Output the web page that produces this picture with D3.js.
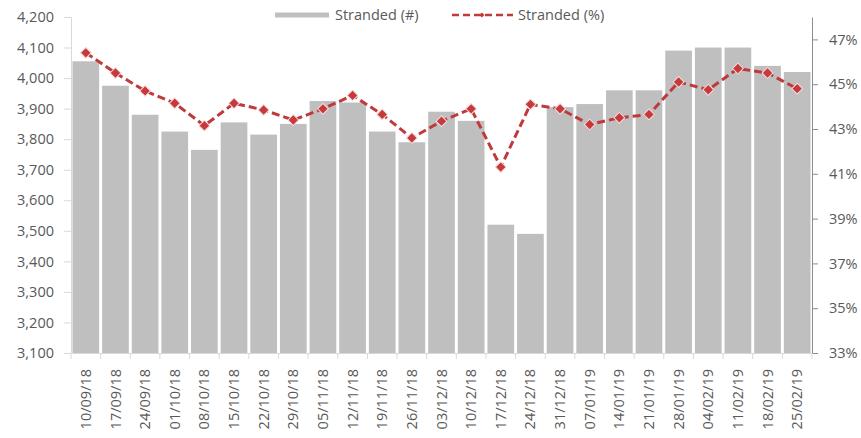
<!DOCTYPE html>
<html>
<head>
<meta charset="utf-8">
<script src="https://cdnjs.cloudflare.com/ajax/libs/d3/7.8.5/d3.min.js"></script>
<style>
  body { margin: 0; background: #fff; }
  text { font-family: "Open Sans", "Noto Sans", sans-serif; fill: #595959; }
</style>
</head>
<body>
<div id="chart"></div>
<script>
//week labels
let weeks = ['10/09/18','17/09/18','24/09/18','01/10/18','08/10/18','15/10/18','22/10/18','29/10/18',
             '05/11/18','12/11/18','19/11/18','26/11/18','03/12/18','10/12/18','17/12/18','24/12/18',
             '31/12/18','07/01/19','14/01/19','21/01/19','28/01/19','04/02/19','11/02/19','18/02/19','25/02/19'];

//stranded count (bars, left axis)
let strandedCount = [4055, 3975, 3880, 3825, 3765, 3855, 3815, 3850,
                     3925, 3920, 3825, 3790, 3890, 3860, 3520, 3490,
                     3905, 3915, 3960, 3960, 4090, 4100, 4100, 4040, 4020];

//stranded percent (line, right axis)
let strandedPct = [46.4, 45.5, 44.7, 44.15, 43.15, 44.15, 43.85, 43.4,
                   43.9, 44.5, 43.65, 42.6, 43.35, 43.9, 41.3, 44.1,
                   43.9, 43.2, 43.5, 43.65, 45.1, 44.75, 45.7, 45.5, 44.8];

//tick values
let countTicks = d3.range(3100, 4201, 100);
let pctTicks = [33, 35, 37, 39, 41, 43, 45, 47];

let svgWidth = 861;
let svgHeight = 438;
let fontSize = '14.5px';

//plot area edges
let plotLeft = 71, plotRight = 812, plotTop = 17, plotBottom = 353;

let svg = d3.select('#chart')
            .append('svg')
            .attr('width', svgWidth)
            .attr('height', svgHeight);

//scales
let xScale = d3.scaleBand()
               .domain(weeks)
               .range([plotLeft, plotRight])
               .paddingInner(0.1)
               .paddingOuter(0.05);

let countScale = d3.scaleLinear()
                   .domain([3100, 4200])
                   .range([plotBottom, plotTop]);

let pctScale = d3.scaleLinear()
                 .domain([33, 48])
                 .range([plotBottom, plotTop]);

//bars
svg.append('g')
   .selectAll('rect')
   .data(strandedCount)
   .enter()
   .append('rect')
   .attr('x', (d, i) => xScale(weeks[i]))
   .attr('y', d => countScale(d))
   .attr('width', xScale.bandwidth())
   .attr('height', d => plotBottom - countScale(d))
   .attr('fill', '#bfbfbf');

//left axis
let leftAxis = svg.append('g')
                  .attr('transform', `translate(${plotLeft},0)`)
                  .call(d3.axisLeft(countScale)
                          .tickValues(countTicks)
                          .tickFormat(d3.format(','))
                          .tickSize(7)
                          .tickSizeOuter(0)
                          .tickPadding(10));
leftAxis.select('.domain').attr('stroke', '#d9d9d9');
leftAxis.selectAll('.tick line').attr('stroke', '#d9d9d9');
leftAxis.selectAll('text').style('font-size', fontSize).attr('fill', '#595959');

//right axis
let rightAxis = svg.append('g')
                   .attr('transform', `translate(${plotRight},0)`)
                   .call(d3.axisRight(pctScale)
                           .tickValues(pctTicks)
                           .tickFormat(d => d + '%')
                           .tickSize(6)
                           .tickSizeOuter(0)
                           .tickPadding(11));
rightAxis.select('.domain').attr('stroke', '#8c8c8c');
rightAxis.selectAll('.tick line').attr('stroke', '#8c8c8c');
rightAxis.selectAll('text').style('font-size', fontSize).attr('fill', '#595959');

//bottom axis - labels only, ticks drawn between the bands
let step = xScale.step();
let bottomAxis = svg.append('g')
                    .attr('transform', `translate(0,${plotBottom})`)
                    .call(d3.axisBottom(xScale).tickSize(0).tickSizeOuter(0));
bottomAxis.select('.domain').attr('stroke', '#d9d9d9');
bottomAxis.selectAll('text')
          .style('font-size', fontSize)
          .attr('fill', '#595959')
          .attr('transform', 'rotate(-90)')
          .attr('x', -16)
          .attr('y', 0)
          .attr('dy', '0.35em')
          .style('text-anchor', 'end');

bottomAxis.selectAll('.sep')
          .data(weeks.concat(['end']))
          .enter()
          .append('line')
          .attr('class', 'sep')
          .attr('x1', (d, i) => i < weeks.length ? xScale(d) - step * 0.05 : plotRight)
          .attr('x2', (d, i) => i < weeks.length ? xScale(d) - step * 0.05 : plotRight)
          .attr('y1', 0)
          .attr('y2', 6)
          .attr('stroke', '#d9d9d9');

//line for percent
let line = d3.line()
             .x((d, i) => xScale(weeks[i]) + xScale.bandwidth() / 2)
             .y(d => pctScale(d));

svg.append('path')
   .datum(strandedPct)
   .attr('d', line)
   .attr('fill', 'none')
   .attr('stroke', '#c0393b')
   .attr('stroke-width', 3)
   .attr('stroke-dasharray', '8,4');

let diamond = d3.symbol().type(d3.symbolSquare).size(58);

svg.append('g')
   .selectAll('path')
   .data(strandedPct)
   .enter()
   .append('path')
   .attr('d', diamond)
   .attr('transform', (d, i) => `translate(${xScale(weeks[i]) + xScale.bandwidth() / 2},${pctScale(d)}) rotate(45)`)
   .attr('fill', '#c8393b')
   .attr('stroke', '#f4dcdc')
   .attr('stroke-width', 1);

//legend
let legend = svg.append('g');
legend.append('line')
      .attr('x1', 275).attr('x2', 329)
      .attr('y1', 15).attr('y2', 15)
      .attr('stroke', '#bfbfbf')
      .attr('stroke-width', 5);
legend.append('text')
      .attr('x', 335).attr('y', 15)
      .attr('dy', '0.35em')
      .style('font-size', fontSize)
      .text('Stranded (#)');
legend.append('line')
      .attr('x1', 452).attr('x2', 513)
      .attr('y1', 15).attr('y2', 15)
      .attr('stroke', '#c0393b')
      .attr('stroke-width', 2.6)
      .attr('stroke-dasharray', '7,4');
legend.append('path')
      .attr('d', d3.symbol().type(d3.symbolSquare).size(12))
      .attr('transform', 'translate(482,15) rotate(45)')
      .attr('fill', '#c0393b');
legend.append('text')
      .attr('x', 518).attr('y', 15)
      .attr('dy', '0.35em')
      .style('font-size', fontSize)
      .text('Stranded (%)');
</script>
</body>
</html>
